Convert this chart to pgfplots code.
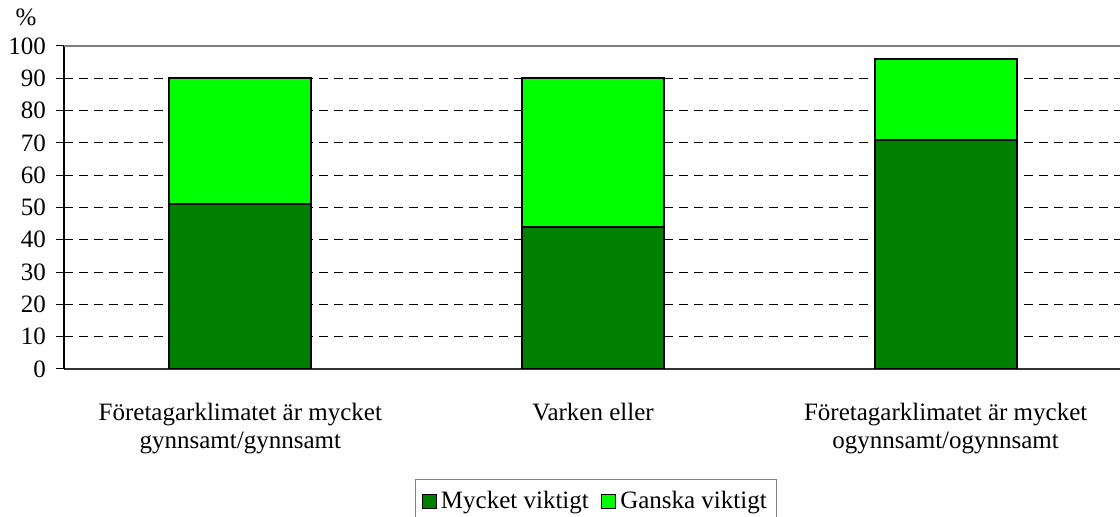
\documentclass[border=0pt]{standalone}
\usepackage{fontspec}
\setmainfont{Liberation Serif}
\usepackage{pgfplots}
\pgfplotsset{compat=1.18}
\definecolor{dkgreen}{RGB}{0,128,0}
\definecolor{ltgreen}{RGB}{0,255,0}
\begin{document}
\begin{tikzpicture}[font=\fontsize{12.5}{14}\selectfont]
\path[use as bounding box, clip] (-32pt,-74pt) rectangle (528pt,184.5pt);
\begin{axis}[
  scale only axis,
  width=529pt, height=161.5pt,
  xmin=-0.5, xmax=2.5,
  ymin=0, ymax=100,
  ybar stacked,
  bar width=71pt,
  axis lines*=left,
  axis line style={black, line width=0.6pt},
  x axis line style={draw=gray!40!black, line width=0.9pt},
  xtick={0,1,2},
  xticklabels={{Företagarklimatet är mycket\\gynnsamt/gynnsamt},{Varken eller},{Företagarklimatet är mycket\\ogynnsamt/ogynnsamt}},
  x tick label style={align=center, yshift=-9.5pt},
  major x tick style={draw=none},
  extra x ticks={-0.5,0.5,1.5,2.5},
  extra x tick labels={},
  extra x tick style={major tick length=3.5pt, tick style={black, line width=0.5pt}},
  ytick={0,10,...,100},
  y tick label style={xshift=-1.5pt},
  tick align=outside,
  major tick length=4pt,
  tick style={black, line width=0.5pt},
  xtick pos=bottom, ytick pos=left,
  ymajorgrids,
  grid style={black, line width=0.5pt, dash pattern=on 4.5pt off 3pt},
  /pgf/number format/assume math mode=true,
  legend columns=2,
  legend style={at={(0.503,-0.3406)}, anchor=north, draw=gray, line width=0.6pt,
    inner xsep=3pt, inner ysep=4pt,
    /tikz/every even column/.append style={column sep=4pt}},
  legend image code/.code={\draw[#1, draw=black, line width=0.7pt] (0pt,-3.5pt) rectangle (7pt,3.5pt);},
]
\addplot[fill=dkgreen, draw=black, line width=0.9pt] coordinates {(0,51) (1,44) (2,71)};
\addplot[fill=ltgreen, draw=black, line width=0.9pt] coordinates {(0,39) (1,46) (2,25)};
\legend{Mycket viktigt, Ganska viktigt}
\draw[gray, line width=1pt] (rel axis cs:0,1) -- (rel axis cs:1,1);
\end{axis}
\node at (-19pt,176pt) {\%};
\end{tikzpicture}
\end{document}
